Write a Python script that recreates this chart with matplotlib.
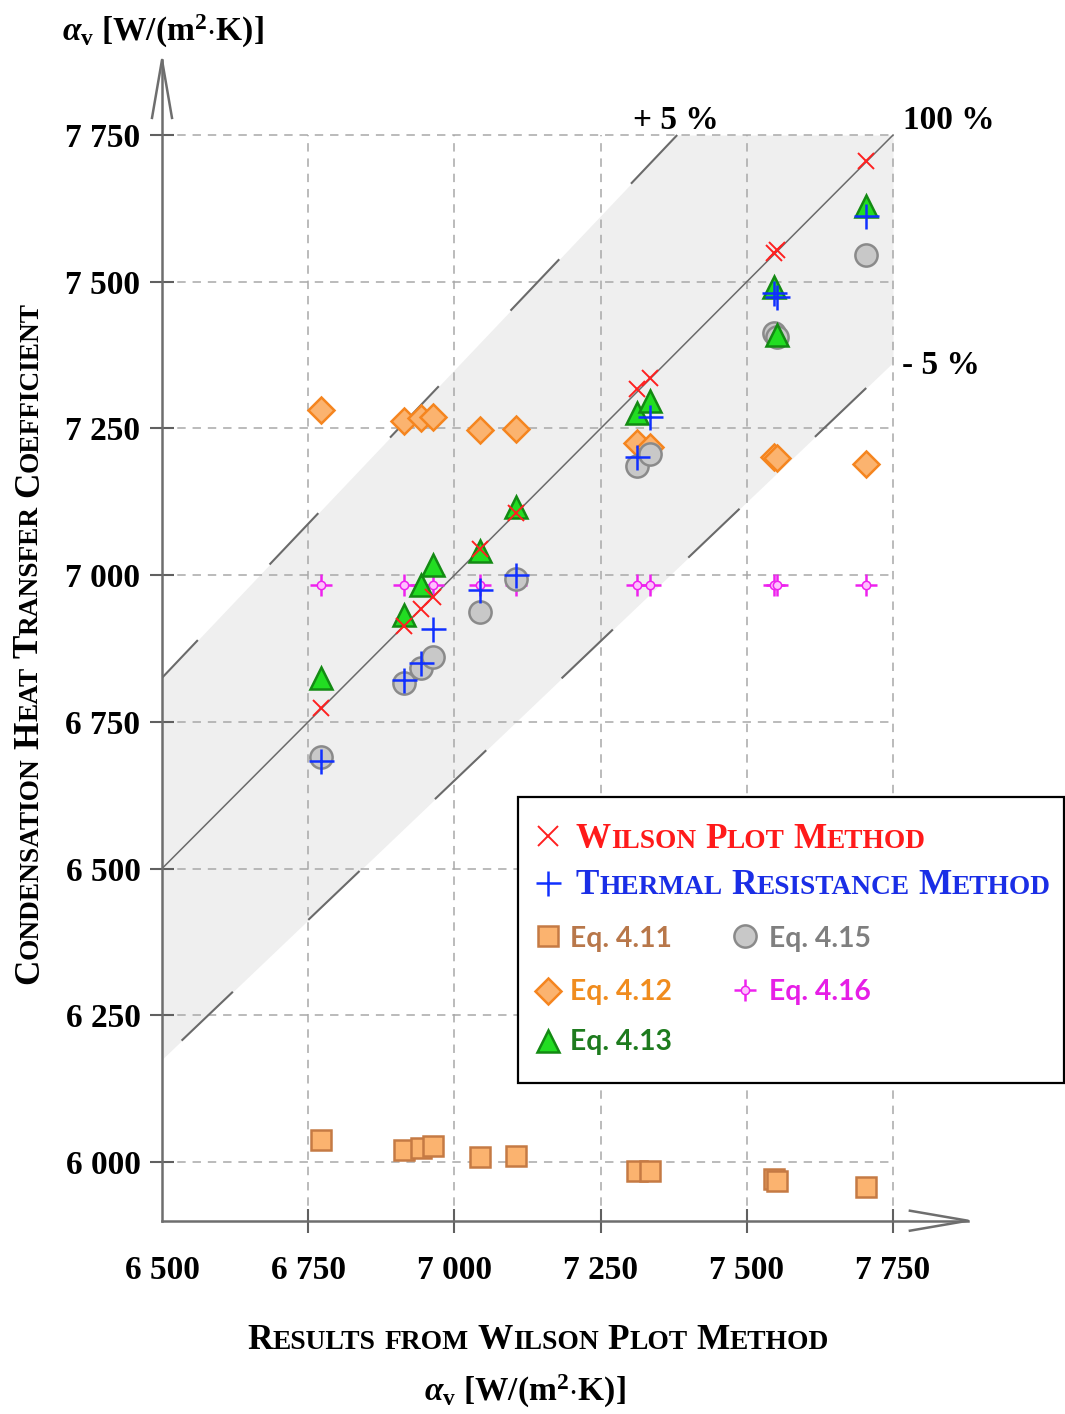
import matplotlib
matplotlib.use('Agg')
import matplotlib.pyplot as plt
import numpy as np
from matplotlib.lines import Line2D
from matplotlib.patches import Rectangle
from matplotlib.font_manager import FontProperties
from matplotlib.transforms import ScaledTranslation

plt.rcParams['mathtext.fontset'] = 'custom'
plt.rcParams['mathtext.rm'] = 'Liberation Serif:bold'
plt.rcParams['mathtext.it'] = 'Liberation Serif:italic:bold'
plt.rcParams['mathtext.bf'] = 'Liberation Serif:bold'

# ---------------- data ----------------
x_wilson = [6772, 6914, 6943, 6963, 7044, 7105, 7313, 7334, 7547, 7552, 7703]
y_wilson = [6773, 6914, 6943, 6962, 7045, 7106, 7318, 7336, 7549, 7554, 7705]
y_thermal = [6684, 6822, 6851, 6909, 6975, 7000, 7202, 7270, 7481, 7474, 7612]
y_eq411 = [6037, 6020, 6024, 6027, 6008, 6010, 5985, 5984, 5971, 5968, 5958]
y_eq412 = [7282, 7262, 7267, 7270, 7248, 7249, 7226, 7218, 7202, 7200, 7189]
y_eq413 = [6825, 6932, 6984, 7018, 7041, 7116, 7276, 7297, 7491, 7409, 7629]
y_eq415 = [6690, 6817, 6842, 6861, 6937, 6994, 7186, 7207, 7413, 7406, 7546]
y_eq416 = [6983, 6983, 6983, 6983, 6983, 6983, 6984, 6984, 6984, 6983, 6984]

x_ticks = [6500, 6750, 7000, 7250, 7500, 7750]
x_ticklabels = ['6 500', '6 750', '7 000', '7 250', '7 500', '7 750']
y_ticks = [6000, 6250, 6500, 6750, 7000, 7250, 7500, 7750]
y_ticklabels = ['6 000', '6 250', '6 500', '6 750', '7 000', '7 250', '7 500', '7 750']
deviation = 0.05
x_min, y_min, axis_end, grid_end = 6500, 5900, 7878, 7750

# ---------------- figure ----------------
W, H = 1065, 1414
fig = plt.figure(figsize=(W / 100, H / 100), dpi=100)
def fx(px): return px / W
def fy(py): return 1 - py / H

ax = fig.add_axes([0.15211, 0.13670, 0.75671, 0.82094])
ax.set_xlim(x_min, axis_end)
ax.set_ylim(y_min, axis_end)
for s in ['top', 'right']:
    ax.spines[s].set_visible(False)
axis_col = '#6e6e6e'
for s in ['left', 'bottom']:
    ax.spines[s].set_color(axis_col)
    ax.spines[s].set_linewidth(1.8)

# band
xs = np.linspace(x_min, grid_end, 500)
ax.fill_between(xs, xs * (1 - deviation), np.minimum(xs * (1 + deviation), grid_end),
                color='#efefef', lw=0, zorder=0)

# grid (limited to 7750)
grid_kw = dict(color='#a8a8a8', lw=1.1, linestyles=(0, (5.5, 4.5)), zorder=1)
ax.hlines(y_ticks, x_min, grid_end, **grid_kw)
ax.vlines(x_ticks[1:], y_min, grid_end, **grid_kw)

# reference lines
line_col = '#6a6a6a'
xu = np.array([x_min, grid_end / (1 + deviation)])
ax.plot(xu, xu * (1 + deviation), color=line_col, lw=1.5, ls=(9, (34, 50)), zorder=2)
xl = np.array([x_min, grid_end])
ax.plot(xl, xl * (1 - deviation), color=line_col, lw=1.5, ls=(71, (34, 50)), zorder=2)
ax.plot(xl, xl, color=line_col, lw=1.1, zorder=2)

# series
ax.plot(x_wilson, y_eq411, ls='none', marker='s', ms=15, mfc='#fbb36f', mec='#c57a44', mew=1.8, zorder=3)
ax.plot(x_wilson, y_eq412, ls='none', marker='D', ms=13, mfc='#fbb36f', mec='#f5851f', mew=1.8, zorder=3)
ax.plot(x_wilson, y_eq416, ls='none', marker='+', ms=16, mec='#ee22ee', mew=1.8, zorder=4)
ax.plot(x_wilson, y_eq416, ls='none', marker='o', ms=6, mfc='#ffc0ff', mec='#ee22ee', mew=1.1, zorder=4)
ax.plot(x_wilson, y_eq415, ls='none', marker='o', ms=16, mfc='#c8c8c8', mec='#8a8a8a', mew=1.8, zorder=5)
ax.plot(x_wilson, y_eq413, ls='none', marker='^', ms=16, mfc='#22dd22', mec='#138a13', mew=1.8, zorder=6)
ax.plot(x_wilson, y_thermal, ls='none', marker='+', ms=18, mec='#1030ff', mew=1.8, zorder=7)
ax.plot(x_wilson, y_wilson, ls='none', marker='x', ms=12, mec='#ff2020', mew=1.4, zorder=8)

# ticks
ax.set_xticks(x_ticks)
ax.set_xticklabels(x_ticklabels)
ax.set_yticks(y_ticks)
ax.set_yticklabels(y_ticklabels)
ax.tick_params(direction='inout', length=17, width=1.5, color='#606060')
ax.tick_params(axis='x', pad=16)
ax.tick_params(axis='y', pad=7)
for lab in ax.get_xticklabels() + ax.get_yticklabels():
    lab.set_fontfamily('Liberation Serif')
    lab.set_fontweight('bold')
    lab.set_fontsize(24)
ax.xaxis.get_major_ticks()[0].tick1line.set_visible(False)

# arrow heads
L, w = 0.58, 0.10
tr = fig.dpi_scale_trans + ScaledTranslation(x_min, axis_end, ax.transData)
ax.plot([-w, 0, w], [-L, 0, -L], transform=tr, color=axis_col, lw=1.8, clip_on=False)
tr = fig.dpi_scale_trans + ScaledTranslation(axis_end, y_min, ax.transData)
ax.plot([-L, 0, -L], [w, 0, -w], transform=tr, color=axis_col, lw=1.8, clip_on=False)

# ---------------- small caps helper ----------------
fig.canvas.draw()
renderer = fig.canvas.get_renderer()

def text_w(s, size, family='Liberation Serif', weight='bold'):
    fp = FontProperties(family=family, weight=weight, size=size)
    w1 = renderer.get_text_width_height_descent('|' + s + '|', fp, ismath=False)[0]
    w0 = renderer.get_text_width_height_descent('||', fp, ismath=False)[0]
    return w1 - w0

def tokens(s):
    out = []
    for ch in s:
        c = 'sp' if ch == ' ' else ('S' if ch.islower() else 'B')
        if out and out[-1][1] == c:
            out[-1][0] += ch.upper()
        else:
            out.append([ch.upper(), c])
    return out

def smallcaps(s, pos_px, base_px, color, target=None, big=22, ratio=0.78,
              rotation=0, center=False):
    toks = tokens(s)
    def size_of(c, b):
        return b * ratio if c == 'S' else b
    def total(b):
        return sum(text_w(t, size_of(c, b)) for t, c in toks)
    if target is not None:
        big = big * target / total(big)
    tot = total(big)
    p = pos_px - tot / 2 if center else pos_px
    for t, c in toks:
        sz = size_of(c, big)
        wdt = text_w(t, sz)
        if c != 'sp':
            if rotation == 0:
                fig.text(fx(p), fy(base_px), t, fontsize=sz, family='Liberation Serif',
                         weight='bold', color=color, ha='left', va='baseline', zorder=5)
            else:
                fig.text(fx(base_px), fy(p), t, fontsize=sz, family='Liberation Serif',
                         weight='bold', color=color, ha='left', va='baseline',
                         rotation=90, rotation_mode='anchor', zorder=5)
        p += wdt if rotation == 0 else -wdt
    return big

# axis titles
smallcaps('Results from Wilson Plot Method', 538, 1349, 'black', target=580, center=True)
if True:
    # rotated: pos measured upward from bottom px
    toks_s = 'Condensation Heat Transfer Coefficient'
    smallcaps(toks_s, 642 + 685 / 2, 38, 'black', target=685, rotation=90)

unit = r'$\alpha_{\mathrm{v}}$ [W/(m$^{\mathbf{2}}$$\cdot$K)]'
fig.text(fx(62), fy(41), unit, fontsize=24, family='Liberation Serif', weight='bold',
         ha='left', va='baseline')
fig.text(fx(525), fy(1401), unit, fontsize=24, family='Liberation Serif', weight='bold',
         ha='center', va='baseline')

# percentage labels
pct_kw = dict(fontsize=24, family='Liberation Serif', weight='bold', ha='left', va='baseline')
fig.text(fx(633), fy(129), '+ 5 %', **pct_kw)
fig.text(fx(903), fy(129), '100 %', **pct_kw)
fig.text(fx(902), fy(374), '- 5 %', **pct_kw)

# ---------------- legend ----------------
fig.add_artist(Rectangle((fx(518), fy(1083)), fx(1064) - fx(518), fy(797) - fy(1083),
                         transform=fig.transFigure, facecolor='white', edgecolor='black',
                         lw=1.6, zorder=3))

def lg_marker(px, py, **kw):
    fig.add_artist(Line2D([fx(px)], [fy(py)], transform=fig.transFigure, ls='none',
                          zorder=4, **kw))

lg_marker(548, 836, marker='x', ms=14, mec='#ff2020', mew=1.4)
lg_marker(548, 883, marker='+', ms=18, mec='#1030ff', mew=1.8)
lg_marker(548, 936, marker='s', ms=15, mfc='#fbb36f', mec='#c57a44', mew=1.8)
lg_marker(548, 991, marker='D', ms=13, mfc='#fbb36f', mec='#f5851f', mew=1.8)
lg_marker(548, 1041, marker='^', ms=16, mfc='#22dd22', mec='#138a13', mew=1.8)
lg_marker(745, 936, marker='o', ms=16, mfc='#c8c8c8', mec='#8a8a8a', mew=1.8)
lg_marker(745, 990, marker='+', ms=16, mec='#ee22ee', mew=1.8)
lg_marker(745, 990, marker='o', ms=6, mfc='#ffc0ff', mec='#ee22ee', mew=1.1)

bsz = smallcaps('Thermal Resistance Method', 576, 894, '#1a2ee6', target=475)
smallcaps('Wilson Plot Method', 576, 848, '#ff1a1a', big=bsz)

eq_size = 20 * 102 / text_w('Eq. 4.11', 20, family='Lato', weight='bold')
eq_kw = dict(fontsize=eq_size, family='Lato', weight='bold', ha='left', va='baseline', zorder=5)
fig.text(fx(570), fy(947), 'Eq. 4.11', color='#b8774a', **eq_kw)
fig.text(fx(570), fy(1000), 'Eq. 4.12', color='#f08c1e', **eq_kw)
fig.text(fx(570), fy(1050), 'Eq. 4.13', color='#1e7b1e', **eq_kw)
fig.text(fx(769), fy(947), 'Eq. 4.15', color='#7f7f7f', **eq_kw)
fig.text(fx(769), fy(1000), 'Eq. 4.16', color='#e61ee6', **eq_kw)

fig.savefig('out.png', dpi=100)
